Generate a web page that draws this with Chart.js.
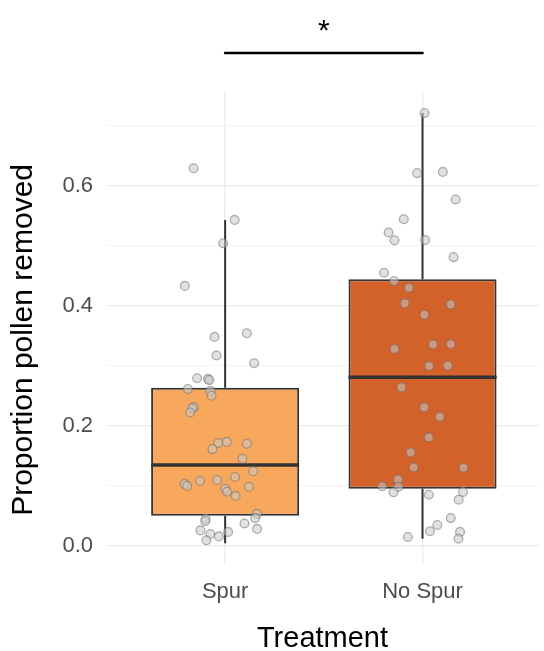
<!DOCTYPE html>
<html><head><meta charset="utf-8">
<script src="https://cdn.jsdelivr.net/npm/chart.js@4"></script>
<style>html,body{margin:0;padding:0;background:#fff}#wrap{width:544px;height:651px;position:relative}</style>
</head><body><div id="wrap"><canvas id="c" width="544" height="651"></canvas></div>
<script>
// ---- data ----
const categories = ["Spur", "No Spur"];
const q1 = [0.050, 0.095];
const medians = [0.1345, 0.2807];
const q3 = [0.2633, 0.444];
const whiskerLow = [0.004, 0.0117];
const whiskerHigh = [0.543, 0.721];

const spurValues = [0.629,0.543,0.504,0.433,0.348,0.354,0.317,0.304,0.279,0.278,0.276,0.261,0.258,0.250,0.231,0.229,0.222,0.173,0.171,0.170,0.161,0.145,0.124,0.103,0.0995,0.108,0.1095,0.1145,0.095,0.090,0.083,0.098,0.053,0.046,0.0445,0.041,0.037,0.028,0.0255,0.023,0.0195,0.0155,0.009];
const spurJitter = [-0.16,0.048,-0.01,-0.204,-0.054,0.11,-0.044,0.147,-0.142,-0.087,-0.08,-0.189,-0.075,-0.069,-0.159,-0.167,-0.177,0.008,-0.035,0.11,-0.064,0.088,0.142,-0.205,-0.192,-0.127,-0.04,0.05,0,0.01,0.053,0.12,0.162,0.152,-0.099,-0.101,0.098,0.162,-0.125,0.015,-0.075,-0.032,-0.095];

const noSpurValues = [0.721,0.621,0.623,0.577,0.544,0.522,0.509,0.5095,0.481,0.455,0.441,0.430,0.404,0.402,0.385,0.328,0.3355,0.336,0.2995,0.300,0.264,0.2305,0.215,0.1805,0.1555,0.1305,0.130,0.1105,0.099,0.098,0.089,0.085,0.0895,0.0767,0.046,0.0345,0.024,0.023,0.0117,0.0145];
const noSpurJitter = [0.01,-0.027,0.103,0.168,-0.095,-0.172,-0.142,0.013,0.157,-0.195,-0.144,-0.069,-0.09,0.143,0.01,-0.142,0.053,0.143,0.033,0.128,-0.107,0.008,0.088,0.032,-0.06,-0.045,0.208,-0.124,-0.204,-0.122,-0.147,0.032,0.205,0.183,0.143,0.075,0.038,0.19,0.182,-0.074];

const yTickValues = [0, 0.1, 0.2, 0.3, 0.4, 0.5, 0.6, 0.7];
const yTickLabels = ["0.0", "", "0.2", "", "0.4", "", "0.6", ""];
const yTitle = "Proportion pollen removed";
const xTitle = "Treatment";
const significancePair = [0, 1];
const significanceLabel = "*";

// ---- style ----
const FONT = "'Liberation Sans', Arial, Helvetica, sans-serif";
const boxColors = ["#F8A85C", "#D3612A"];
const boxHalf = 0.375;
const dark = "#333333";

const datasets = [];
// points (top)
datasets.push({
  type: 'scatter', order: 0,
  data: spurValues.map((v, i) => ({x: 0 + spurJitter[i], y: v}))
    .concat(noSpurValues.map((v, i) => ({x: 1 + noSpurJitter[i], y: v}))),
  pointRadius: 4.4, pointHoverRadius: 4.4, borderWidth: 1.3,
  backgroundColor: 'rgba(200,200,200,0.55)', borderColor: 'rgba(115,115,115,0.55)'
});
// medians
categories.forEach((c, i) => {
  datasets.push({
    type: 'line', order: 1,
    data: [{x: i - boxHalf, y: medians[i]}, {x: i + boxHalf, y: medians[i]}],
    borderColor: dark, borderWidth: 3.4, pointRadius: 0, borderCapStyle: 'butt'
  });
});
// boxes
datasets.push({
  type: 'bar', order: 2,
  data: categories.map((c, i) => ({x: i, y: [q1[i], q3[i]]})),
  backgroundColor: boxColors, borderColor: dark, borderWidth: 2, borderSkipped: false,
  barPercentage: 0.75, categoryPercentage: 1
});
// whiskers
categories.forEach((c, i) => {
  datasets.push({type: 'line', order: 3, data: [{x: i, y: q3[i]}, {x: i, y: whiskerHigh[i]}],
    borderColor: dark, borderWidth: 2, pointRadius: 0});
  datasets.push({type: 'line', order: 3, data: [{x: i, y: whiskerLow[i]}, {x: i, y: q1[i]}],
    borderColor: dark, borderWidth: 2, pointRadius: 0});
});

const annotPlugin = {
  id: 'annot',
  afterDraw(chart) {
    const {ctx, scales: {x}, chartArea} = chart;
    const x0 = x.getPixelForValue(significancePair[0]);
    const x1 = x.getPixelForValue(significancePair[1]);
    const yLine = chartArea.top - 38.5;
    ctx.save();
    ctx.strokeStyle = '#000'; ctx.lineWidth = 2.6; ctx.lineCap = 'round';
    ctx.beginPath(); ctx.moveTo(x0, yLine); ctx.lineTo(x1, yLine); ctx.stroke();
    ctx.fillStyle = '#000'; ctx.font = '30px ' + FONT;
    ctx.textAlign = 'center'; ctx.textBaseline = 'alphabetic';
    ctx.fillText(significanceLabel, (x0 + x1) / 2, yLine - 13);
    // y axis title
    ctx.translate(23.5, (chartArea.top + chartArea.bottom) / 2 + 12);
    ctx.rotate(-Math.PI / 2);
    ctx.font = '30px ' + FONT;
    ctx.textBaseline = 'middle';
    ctx.fillText(yTitle, 0, 0);
    ctx.restore();
  }
};

new Chart(document.getElementById('c'), {
  type: 'scatter',
  data: {datasets},
  plugins: [annotPlugin],
  options: {
    responsive: false, animation: false, events: [],
    layout: {padding: {top: 91.5, left: 0, right: 0, bottom: 0}},
    plugins: {legend: {display: false}, tooltip: {enabled: false}},
    scales: {
      x: {
        type: 'linear', min: -0.6, max: 1.5865, offset: false,
        afterFit: s => { s.height = 86.7; },
        afterBuildTicks: s => { s.ticks = categories.map((c, i) => ({value: i})); },
        ticks: {autoSkip: false, maxRotation: 0, padding: 17, color: '#4D4D4D',
          font: {family: FONT, size: 22, lineHeight: 1},
          callback: (v, i) => categories[i]},
        grid: {color: '#EBEBEB', lineWidth: 1.3, drawTicks: false, offset: false},
        border: {display: false},
        title: {display: true, text: xTitle, color: '#000', padding: 0,
          font: {family: FONT, size: 29, lineHeight: 0.8}}
      },
      y: {
        type: 'linear', min: -0.031, max: 0.757, beginAtZero: false,
        afterFit: s => { s.width = 106.7; },
        afterBuildTicks: s => { s.ticks = yTickValues.map(v => ({value: v})); },
        ticks: {autoSkip: false, padding: 13.7, color: '#4D4D4D',
          font: {family: FONT, size: 22, lineHeight: 1},
          callback: (v, i) => yTickLabels[i]},
        grid: {drawTicks: false,
          color: c => (c.index % 2 === 0 ? '#EBEBEB' : '#F2F2F2'),
          lineWidth: c => (c.index % 2 === 0 ? 1.3 : 1)},
        border: {display: false},
        title: {display: false}
      }
    }
  }
});
</script>
</body></html>
